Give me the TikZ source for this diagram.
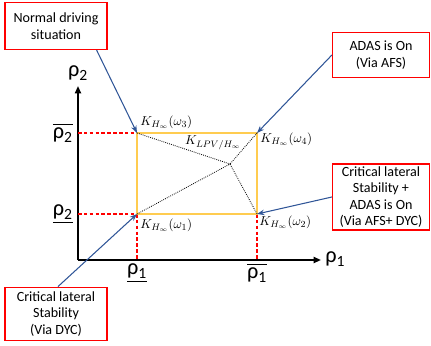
\documentclass[tikz,border=0pt]{standalone}
\usepackage{amsmath}
\usepackage{fontspec}
\setmainfont{Carlito}
\usetikzlibrary{arrows.meta, positioning, calc}
\definecolor{cRed}{RGB}{255,0,0}
\definecolor{cBlue}{RGB}{47,85,151}
\definecolor{cYellow}{RGB}{255,204,80}
\tikzset{
	note/.style     ={rectangle, draw=cRed, line width=1.3pt, fill=white, minimum width=3.0cm, minimum height=1.4cm, align=center, font=\fontsize{12}{14}\selectfont, inner sep=2pt},
	axis/.style     ={-{Triangle[length=2.2mm, width=1.8mm]}, line width=1.5pt},
	guide/.style    ={cRed, dashed, line width=1pt, dash pattern=on 3pt off 2pt},
	pointer/.style  ={-{Stealth[length=2.2mm]}, cBlue, line width=0.9pt},
	ray/.style      ={densely dotted, line width=0.7pt},
	klab/.style     ={font=\fontsize{11}{12}\selectfont, inner sep=1pt},
	rlab/.style     ={font=\fontsize{19}{20}\selectfont, inner sep=1pt},
}
\newcommand{\rr}[1]{\text{ρ}_{\text{#1}}}
\begin{document}
\begin{tikzpicture}[x=0.03cm, y=-0.03cm]
	\useasboundingbox (0,0) rectangle (431,346);
	% axes
	\coordinate (o) at (78,260);
	\coordinate (xe) at (321,260);
	\coordinate (ye) at (78,86);
	\draw[axis] (o) -- (xe);
	\draw[axis] (o) -- (ye);
	\node[rlab, anchor=west] (xl) at (324,259) {$\rr{1}$};
	\node[rlab, anchor=south] (yl) at (78,82) {$\rr{2}$};
	% corners of the polytope
	\coordinate (w1) at (137,214);
	\coordinate (w2) at (257,214);
	\coordinate (w3) at (137,133);
	\coordinate (w4) at (257,133);
	\coordinate (wc) at (230,164);
	\coordinate (y1) at (78,214);
	\coordinate (y2) at (78,133);
	\coordinate (x1) at (137,260);
	\coordinate (x2) at (257,260);
	\draw[guide] (y2) -- (w3); \draw[guide] (y1) -- (w1);
	\draw[guide] (w1) -- (x1); \draw[guide] (w2) -- (x2);
	\draw[cYellow, line width=1.3pt] (w1) rectangle (w4);
	\draw[ray] (w1) -- (wc); \draw[ray] (w2) -- (wc); \draw[ray] (w3) -- (wc); \draw[ray] (w4) -- (wc);
	% bounds
	\node[rlab, anchor=east] (r2u) at (74,133) {$\overline{\rr{2}}$};
	\node[rlab, anchor=east] (r2l) at (74,214) {$\underline{\rr{2}}$};
	\node[rlab, anchor=north] (r1l) at (137,262) {$\underline{\rr{1}}$};
	\node[rlab, anchor=north] (r1u) at (257,262) {$\overline{\rr{1}}$};
	% controllers
	\node[klab, anchor=west] (k3) at (139,122) {$K_{H_\infty}(\omega_3)$};
	\node[klab, anchor=west] (k4) at (259,139) {$K_{H_\infty}(\omega_4)$};
	\node[klab, anchor=west] (k1) at (139,225) {$K_{H_\infty}(\omega_1)$};
	\node[klab, anchor=west] (k2) at (258,222) {$K_{H_\infty}(\omega_2)$};
	\node[klab] (kl) at (213,143) {$K_{LPV/H_\infty}$};
	% operating situations
	\node[note, minimum width=3.05cm] (n1) at (56,26) {Normal driving\\situation};
	\node[note, minimum width=2.9cm, minimum height=1.35cm] (n4) at (381,55) {ADAS is On\\(Via AFS)};
	\node[note, minimum width=2.9cm, minimum height=1.9cm] (n2) at (381,197) {Critical lateral\\Stability +\\ADAS is On\\(Via AFS+ DYC)};
	\node[note, minimum width=3.05cm, minimum height=1.6cm] (n3) at (56,314) {Critical lateral\\Stability\\(Via DYC)};
	\draw[pointer] ($(n1.south east)+(-11,0)$) -- (w3);
	\draw[pointer] (n4.west) -- (w4);
	\draw[pointer] (n2.west) -- (w2);
	\draw[pointer] ($(n3.north)+(2,0)$) -- (w1);
\end{tikzpicture}
\end{document}
